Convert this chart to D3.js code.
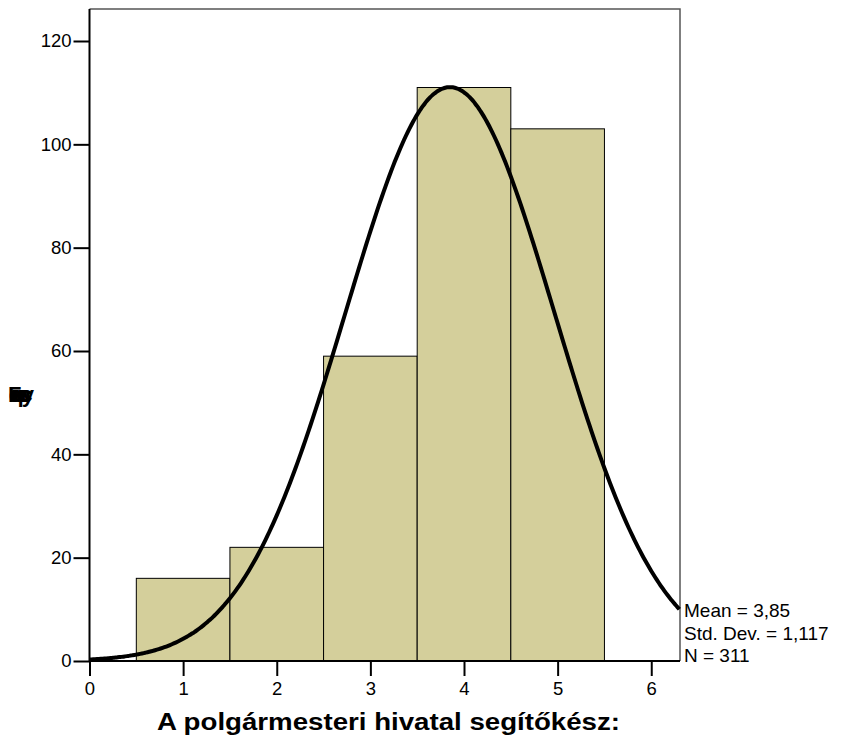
<!DOCTYPE html>
<html><head><meta charset="utf-8">
<script src="https://cdn.jsdelivr.net/npm/d3@7"></script>
<style>body{margin:0;background:#fff;}svg{display:block;font-family:"Liberation Sans",Arial,sans-serif;}</style>
</head><body>
<svg id="c" width="841" height="743"></svg>
<script>
const binStarts = [0.5, 1.5, 2.5, 3.5, 4.5];
const binWidth = 1;
const counts = [16, 22, 59, 111, 103];
const xTicks = [0, 1, 2, 3, 4, 5, 6];
const yTicks = [0, 20, 40, 60, 80, 100, 120];
const mean = 3.85, sd = 1.117, n = 311;
const statLines = ["Mean = 3,85", "Std. Dev. = 1,117", "N = 311"];
const xTitle = "A polgármesteri hivatal segítőkész:";
const yTitle = "Frequency";

const svg = d3.select("#c");
const L = 89.5, R = 680, T = 9, B = 661;
const x = d3.scaleLinear().domain([0, 6.307]).range([L, R]);
const y = d3.scaleLinear().domain([0, 120]).range([B, 41]);

// frame top/right
svg.append("path").attr("d", `M${L},${T}H${R}V${B}`).attr("fill","none").attr("stroke","#555").attr("stroke-width",1.5);

// bars
svg.append("g").selectAll("rect").data(counts).join("rect")
  .attr("x", (d,i)=>x(binStarts[i]))
  .attr("width", (d,i)=>x(binStarts[i]+binWidth)-x(binStarts[i]))
  .attr("y", d=>y(d)).attr("height", d=>y(0)-y(d))
  .attr("fill","#d4cf9b").attr("stroke","#000").attr("stroke-width",1);

// normal curve (fitted from displayed mean, sd, N)
const curvePts = d3.range(0, 6.307+1e-9, 0.02).map(v=>[v, n*binWidth/(sd*Math.sqrt(2*Math.PI))*Math.exp(-0.5*((v-mean)/sd)**2)]);
svg.append("path").datum(curvePts)
  .attr("d", d3.line().x(d=>x(d[0])).y(d=>y(d[1])).curve(d3.curveBasis))
  .attr("fill","none").attr("stroke","#000").attr("stroke-width",4);

// axes
const xa = svg.append("g").attr("transform",`translate(0,${B})`)
  .call(d3.axisBottom(x).tickValues(xTicks).tickSize(15).tickPadding(6).tickFormat(d3.format("d")));
xa.select(".domain").attr("stroke-width",2).attr("d",`M${L},0H${R}`);
xa.selectAll(".tick line").attr("stroke-width",2);
xa.selectAll("text").attr("font-size",18.5).attr("fill","#000").attr("font-family","Liberation Sans, Arial, sans-serif");

const ya = svg.append("g").attr("transform",`translate(${L},0)`)
  .call(d3.axisLeft(y).tickValues(yTicks).tickSize(16).tickPadding(2).tickFormat(d3.format("d")));
ya.select(".domain").attr("stroke-width",2).attr("d",`M0,${T}V${B}`);
ya.selectAll(".tick line").attr("stroke-width",2);
ya.selectAll("text").attr("font-size",18.5).attr("fill","#000").attr("font-family","Liberation Sans, Arial, sans-serif");

// stats
svg.append("g").selectAll("text").data(statLines).join("text")
  .attr("x", 684).attr("y",(d,i)=>617+i*22.5).attr("font-size",19).attr("fill","#000").text(d=>d);

// titles
svg.append("text").attr("x",388.5).attr("y",730).attr("text-anchor","middle")
  .attr("font-size",23.5).attr("font-weight","bold")
  .attr("textLength",463).attr("lengthAdjust","spacingAndGlyphs").text(xTitle);
svg.append("text").attr("x",8).attr("y",402)
  .attr("font-size",22).attr("font-weight","bold")
  .attr("textLength",26).attr("lengthAdjust","spacing").text(yTitle);
</script>
</body></html>
